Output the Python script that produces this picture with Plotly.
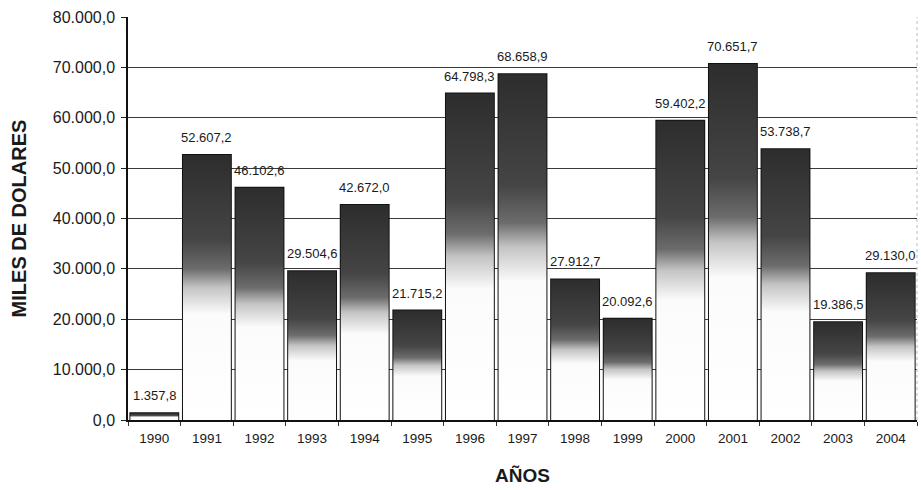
import plotly.graph_objects as go

years = ["1990", "1991", "1992", "1993", "1994", "1995", "1996", "1997",
         "1998", "1999", "2000", "2001", "2002", "2003", "2004"]
values = [1357.8, 52607.2, 46102.6, 29504.6, 42672.0, 21715.2, 64798.3, 68658.9,
          27912.7, 20092.6, 59402.2, 70651.7, 53738.7, 19386.5, 29130.0]
y_ticks = [0, 10000, 20000, 30000, 40000, 50000, 60000, 70000, 80000]

BAR_W = 0.91
grad = [[0.0, "#ffffff"], [0.4, "#fbfbfb"], [0.5, "#c4c4c4"], [0.57, "#6c6c6c"],
        [0.68, "#454545"], [1.0, "#2d2d2d"]]

fig = go.Figure()
xs = list(range(len(years)))

# gradient-filled bar bodies
for i, v in zip(xs, values):
    fig.add_trace(go.Scatter(
        x=[i - BAR_W / 2, i - BAR_W / 2, i + BAR_W / 2, i + BAR_W / 2, i - BAR_W / 2],
        y=[0, v, v, 0, 0],
        mode="lines", line=dict(width=0), fill="toself",
        fillgradient=dict(type="vertical", colorscale=grad, start=0, stop=v),
        hoverinfo="skip", showlegend=False))

# outlines
fig.add_trace(go.Bar(
    x=xs, y=values, width=BAR_W,
    marker=dict(color="rgba(0,0,0,0)", line=dict(color="#111111", width=2)),
    showlegend=False))

# value labels
for i, v in zip(xs, values):
    txt = f"{v:,.1f}".replace(",", "X").replace(".", ",").replace("X", ".")
    fig.add_annotation(x=i, y=v, text=txt, showarrow=False, yanchor="bottom", yshift=8,
                       font=dict(family="Liberation Sans, Arial", size=13, color="#1a1a1a"))

fig.update_layout(
    width=921, height=490,
    margin=dict(l=128, r=4, t=17, b=70),
    paper_bgcolor="white", plot_bgcolor="white",
    separators=",.",
    font=dict(family="Liberation Sans, Arial", color="#1a1a1a"),
    xaxis=dict(
        range=[-0.5, len(years) - 0.5], tickmode="array", tickvals=xs, ticktext=years,
        ticks="", showgrid=False, zeroline=False, automargin=False,
        showline=True, linecolor="#111111", linewidth=2,
        tickfont=dict(size=13.5, color="#1a1a1a"), ticklabelstandoff=5,
        minor=dict(tickmode="array", tickvals=[i - 0.5 for i in range(len(years) + 1)],
                   ticks="outside", ticklen=4, tickcolor="#333333", showgrid=False),
        title=dict(text="<b>AÑOS</b>", font=dict(size=19, color="#1a1a1a"), standoff=23),
    ),
    yaxis=dict(
        range=[0, 80000], tickmode="array", tickvals=y_ticks, tickformat=",.1f",
        ticks="outside", ticklen=5, tickcolor="#222222", automargin=False,
        showgrid=True, gridcolor="#3a3a3a", gridwidth=1.2, ticklabelstandoff=3,
        zeroline=False, showline=True, linecolor="#111111", linewidth=1.5,
        tickfont=dict(size=16, color="#1a1a1a"),
        title=dict(text="<b>MILES DE DOLARES</b>", font=dict(size=20, color="#1a1a1a"), standoff=21),
    ),
    bargap=0.09,
)

fig.add_shape(type="line", xref="paper", yref="paper", x0=1, x1=1, y0=0, y1=1,
              line=dict(color="#bbbbbb", width=1, dash="dot"))

fig.write_html("out.html", config={"displayModeBar": False},
               post_script="document.body.style.margin='0';document.body.style.overflow='hidden';")
